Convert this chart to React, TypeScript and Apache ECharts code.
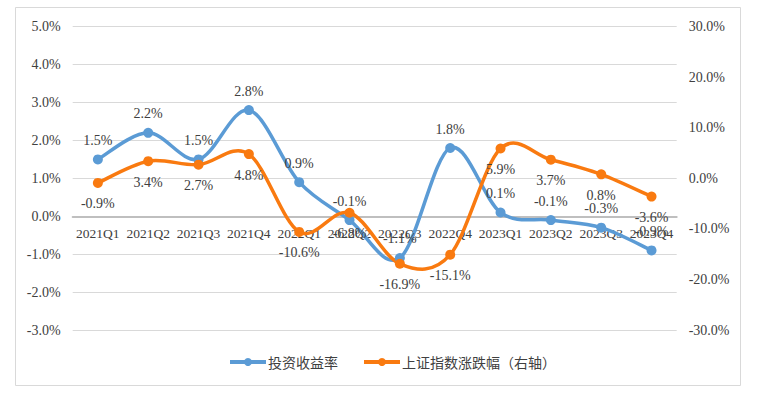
import React, { useEffect, useRef } from "react";
import * as echarts from "echarts";

const categories = [
  "2021Q1", "2021Q2", "2021Q3", "2021Q4",
  "2022Q1", "2022Q2", "2022Q3", "2022Q4",
  "2023Q1", "2023Q2", "2023Q3", "2023Q4",
];
const investReturn = [1.5, 2.2, 1.5, 2.8, 0.9, -0.1, -1.1, 1.8, 0.1, -0.1, -0.3, -0.9];
const sseChange = [-0.9, 3.4, 2.7, 4.8, -10.6, -6.8, -16.9, -15.1, 5.9, 3.7, 0.8, -3.6];
const seriesNames = ["投资收益率", "上证指数涨跌幅（右轴）"];

const BLUE = "#5B9BD5";
const ORANGE = "#F97A10";
const TEXT = "#404040";
const SERIF = '"Liberation Serif", "Times New Roman", serif';
const CJK = '"Noto Sans CJK SC", "Noto Sans", sans-serif';

const pct = (v: number) => v.toFixed(1) + "%";

// Excel-like smoothed curve through points, using the chart's own coordinate mapping
function smoothPathRenderer(values: number[], color: string) {
  return (params: any, api: any) => {
    if (params.dataIndex !== 0) return null;
    const pts = values.map((v, i) => api.coord([i, v]));
    const n = pts.length;
    const t = 1 / 6;
    let d = `M${pts[0][0]},${pts[0][1]}`;
    for (let i = 0; i < n - 1; i++) {
      const p0 = pts[Math.max(i - 1, 0)];
      const p1 = pts[i];
      const p2 = pts[i + 1];
      const p3 = pts[Math.min(i + 2, n - 1)];
      const c1x = p1[0] + (p2[0] - p0[0]) * t;
      const c1y = p1[1] + (p2[1] - p0[1]) * t;
      const c2x = p2[0] - (p3[0] - p1[0]) * t;
      const c2y = p2[1] - (p3[1] - p1[1]) * t;
      d += ` C${c1x},${c1y} ${c2x},${c2y} ${p2[0]},${p2[1]}`;
    }
    return {
      type: "path",
      shape: { pathData: d },
      style: { fill: "none", stroke: color, lineWidth: 3.5, lineJoin: "round", lineCap: "round" },
      silent: true,
    };
  };
}

export default function App() {
  const ref = useRef<HTMLDivElement>(null);
  useEffect(() => {
    if (!ref.current) return;
    const chart = echarts.init(ref.current, undefined, { renderer: "svg" });
    chart.setOption({
      animation: false,
      backgroundColor: "#ffffff",
      graphic: [
        {
          type: "rect",
          shape: { x: 15.5, y: 7.5, width: 725, height: 378 },
          style: { fill: "none", stroke: "#d9d9d9", lineWidth: 1 },
          z: -1,
        },
      ],
      grid: { left: 72.7, right: 92.3, top: 26.7, bottom: 66, containLabel: false },
      legend: {
        left: 223,
        top: 350,
        itemWidth: 36,
        itemHeight: 10,
        itemGap: 24,
        lineStyle: { opacity: 1, width: 4 },
        textStyle: { fontFamily: CJK, fontSize: 14, color: TEXT, padding: [0, 0, 0, -3] },
        data: seriesNames,
      },
      xAxis: {
        type: "category",
        data: categories,
        boundaryGap: true,
        position: "bottom",
        offset: -113.7,
        axisLine: { onZero: false, lineStyle: { color: "#bfbfbf", width: 2 } },
        axisTick: { show: false },
        axisLabel: { fontFamily: SERIF, fontSize: 13.5, color: TEXT, margin: 10, interval: 0 },
        splitLine: { show: false },
      },
      yAxis: [
        {
          type: "value",
          min: -3,
          max: 5,
          interval: 1,
          axisLine: { show: false },
          axisTick: { show: false },
          axisLabel: { fontFamily: SERIF, fontSize: 14, color: TEXT, margin: 12, formatter: pct },
          splitLine: { lineStyle: { color: "#d9d9d9", width: 1 } },
        },
        {
          type: "value",
          min: -30,
          max: 30,
          interval: 10,
          position: "right",
          axisLine: { show: false },
          axisTick: { show: false },
          axisLabel: { fontFamily: SERIF, fontSize: 14, color: TEXT, margin: 12, formatter: pct },
          splitLine: { show: false },
        },
      ],
      series: [
        {
          name: "blueCurve",
          type: "custom",
          yAxisIndex: 0,
          data: investReturn.map((v, i) => [i, v]),
          encode: { x: 0, y: 1 },
          renderItem: smoothPathRenderer(investReturn, BLUE),
          z: 2,
          clip: false,
        },
        {
          name: "orangeCurve",
          type: "custom",
          yAxisIndex: 1,
          data: sseChange.map((v, i) => [i, v]),
          encode: { x: 0, y: 1 },
          renderItem: smoothPathRenderer(sseChange, ORANGE),
          z: 3,
          clip: false,
        },
        {
          name: seriesNames[0],
          type: "line",
          yAxisIndex: 0,
          data: investReturn,
          symbol: "circle",
          symbolSize: 10,
          itemStyle: { color: BLUE },
          lineStyle: { color: BLUE, width: 3.5, opacity: 0 },
          label: {
            show: true,
            position: "top",
            distance: 7,
            formatter: (p: any) => pct(p.value),
            fontFamily: SERIF,
            fontSize: 14,
            color: TEXT,
          },
          z: 4,
        },
        {
          name: seriesNames[1],
          type: "line",
          yAxisIndex: 1,
          data: sseChange,
          symbol: "circle",
          symbolSize: 10,
          itemStyle: { color: ORANGE },
          lineStyle: { color: ORANGE, width: 3.5, opacity: 0 },
          label: {
            show: true,
            position: "bottom",
            distance: 9,
            formatter: (p: any) => pct(p.value),
            fontFamily: SERIF,
            fontSize: 14,
            color: TEXT,
          },
          z: 5,
        },
      ],
    });
    return () => chart.dispose();
  }, []);
  return (
    <div
      ref={ref}
      style={{ position: "absolute", left: 0, top: 0, width: 769, height: 396 }}
    />
  );
}
